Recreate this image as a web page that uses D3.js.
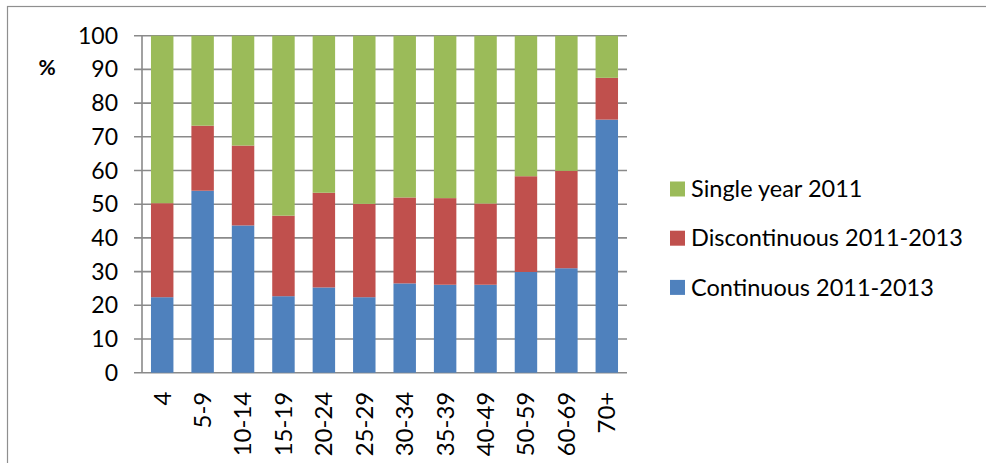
<!DOCTYPE html>
<html>
<head>
<meta charset="utf-8">
<script src="https://cdnjs.cloudflare.com/ajax/libs/d3/7.8.5/d3.min.js"></script>
<style>
  body { margin: 0; background: #fff; }
  text { font-family: Lato, "Open Sans", sans-serif; fill: #000; }
</style>
</head>
<body>
<div id="chart"></div>
<script>
// Data
var ageGroups = ["4", "5-9", "10-14", "15-19", "20-24", "25-29", "30-34", "35-39", "40-49", "50-59", "60-69", "70+"];
var continuous = [22.4, 54.0, 43.7, 22.7, 25.3, 22.4, 26.5, 26.1, 26.1, 29.9, 31.0, 75.1];
var discontinuous = [27.9, 19.3, 23.7, 23.9, 28.1, 27.7, 25.5, 25.7, 24.1, 28.4, 28.9, 12.4];
var singleYear = [49.7, 26.7, 32.6, 53.4, 46.6, 49.9, 48.0, 48.2, 49.8, 41.7, 40.1, 12.5];
var seriesNames = ["Continuous 2011-2013", "Discontinuous 2011-2013", "Single year 2011"];
var yTicks = [0, 10, 20, 30, 40, 50, 60, 70, 80, 90, 100];

var colors = ["#4F81BD", "#C0504D", "#9BBB59"];

var svgWidth = 986;
var svgHeight = 463;
var margin = {top: 35.7, left: 142, right: 359, bottom: 90.3};
var width = svgWidth - margin.left - margin.right;
var height = svgHeight - margin.top - margin.bottom;

var svg = d3.select("#chart")
  .append("svg")
  .attr("width", svgWidth)
  .attr("height", svgHeight);

// chart frame (runs off the right and bottom of the picture)
svg.append("rect")
  .attr("x", 7.5)
  .attr("y", 6.5)
  .attr("width", 1100)
  .attr("height", 600)
  .attr("fill", "none")
  .attr("stroke", "#8f8f8f")
  .attr("stroke-width", 1.2);

var chartGroup = svg.append("g")
  .attr("transform", "translate(" + margin.left + "," + margin.top + ")");

// build table for the stack
var table = ageGroups.map(function(g, i) {
  return {group: g, s0: continuous[i], s1: discontinuous[i], s2: singleYear[i]};
});
var stack = d3.stack().keys(["s0", "s1", "s2"]);
var stacked = stack(table);

var xScale = d3.scaleBand()
  .domain(ageGroups)
  .range([0, width])
  .paddingInner(0.8 / 1.8)
  .paddingOuter(0.4 / 1.8);

var yScale = d3.scaleLinear()
  .domain([0, 100])
  .range([height, 0]);

// gridlines
chartGroup.append("g")
  .selectAll("line")
  .data(yTicks)
  .enter()
  .append("line")
  .attr("x1", -8)
  .attr("x2", width)
  .attr("y1", d => yScale(d))
  .attr("y2", d => yScale(d))
  .attr("stroke", "#8a8a8a")
  .attr("stroke-width", 1.6);

// y axis line
chartGroup.append("line")
  .attr("x1", 0)
  .attr("x2", 0)
  .attr("y1", 0)
  .attr("y2", height)
  .attr("stroke", "#8a8a8a")
  .attr("stroke-width", 1.6);

// bars
chartGroup.selectAll("g.layer")
  .data(stacked)
  .enter()
  .append("g")
  .attr("class", "layer")
  .attr("fill", (d, i) => colors[i])
  .selectAll("rect")
  .data(d => d)
  .enter()
  .append("rect")
  .attr("x", d => xScale(d.data.group))
  .attr("width", xScale.bandwidth())
  .attr("y", d => yScale(d[1]))
  .attr("height", d => yScale(d[0]) - yScale(d[1]));

// y tick labels
chartGroup.append("g")
  .selectAll("text")
  .data(yTicks)
  .enter()
  .append("text")
  .attr("x", -24)
  .attr("y", d => yScale(d))
  .attr("dy", "0.35em")
  .attr("text-anchor", "end")
  .style("font-size", "23px")
  .text(d => d);

// x labels, rotated
chartGroup.append("g")
  .selectAll("text")
  .data(ageGroups)
  .enter()
  .append("text")
  .attr("transform", d => "translate(" + (xScale(d) + xScale.bandwidth() / 2) + "," + (height + 19) + ") rotate(-90)")
  .attr("dy", "0.35em")
  .attr("text-anchor", "end")
  .style("font-size", "24px")
  .text(d => d);

// % label
svg.append("text")
  .attr("x", 47)
  .attr("y", 68)
  .attr("dy", "0.35em")
  .attr("text-anchor", "middle")
  .style("font-size", "21px")
  .style("font-weight", "bold")
  .text("%");

// legend, top entry is the top series
var legendOrder = [2, 1, 0];
var legend = svg.append("g")
  .attr("transform", "translate(670, 189)");

legendOrder.forEach(function(s, i) {
  var row = legend.append("g")
    .attr("transform", "translate(0," + (i * 49.2) + ")");
  row.append("rect")
    .attr("x", 0)
    .attr("y", -7.5)
    .attr("width", 15)
    .attr("height", 15)
    .attr("fill", colors[s]);
  row.append("text")
    .attr("x", 21)
    .attr("y", 0)
    .attr("dy", "0.35em")
    .style("font-size", "23.5px")
    .text(seriesNames[s]);
});
</script>
</body>
</html>
